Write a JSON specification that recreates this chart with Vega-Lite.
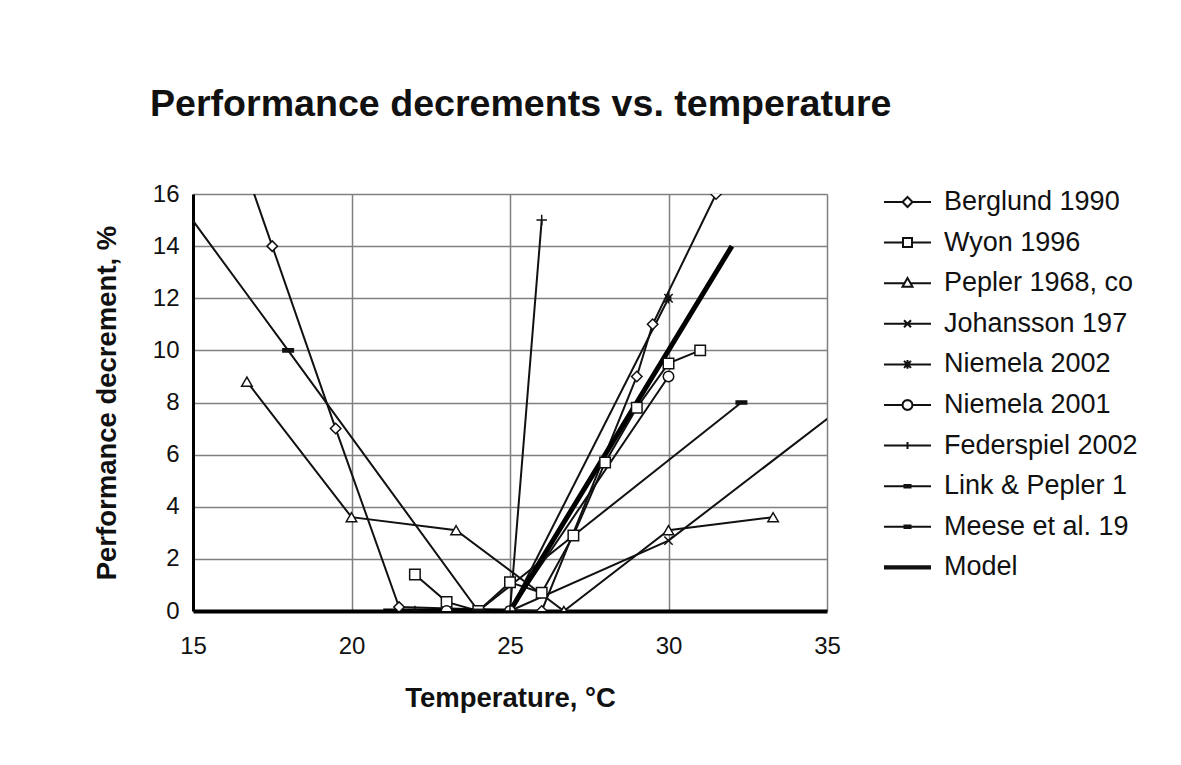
{
  "$schema": "https://vega.github.io/schema/vega-lite/v6.json",
  "autosize": {"type": "none"},
  "padding": {"left": 193, "top": 194, "right": 354, "bottom": 154},
  "width": 634,
  "height": 417,
  "background": "white",
  "config": {
    "font": "Liberation Sans",
    "view": {"stroke": null},
    "axis": {"labelFont": "Liberation Sans", "titleFont": "Liberation Sans", "labelColor": "#111", "titleColor": "#111"}
  },
  "title": {
    "text": "Performance decrements vs. temperature",
    "anchor": "start",
    "frame": "group",
    "dx": -43,
    "offset": 58,
    "fontSize": 37.6,
    "fontWeight": "bold",
    "font": "Liberation Sans",
    "color": "#111"
  },
  "data": {
    "values": [
      {"series": "Berglund 1990", "t": 16.5, "d": 17.5},
      {"series": "Berglund 1990", "t": 17.5, "d": 14},
      {"series": "Berglund 1990", "t": 19.5, "d": 7},
      {"series": "Berglund 1990", "t": 21.5, "d": 0.15},
      {"series": "Berglund 1990", "t": 26, "d": 0},
      {"series": "Berglund 1990", "t": 29, "d": 9},
      {"series": "Berglund 1990", "t": 29.5, "d": 11},
      {"series": "Berglund 1990", "t": 31.5, "d": 16},
      {"series": "Wyon 1996", "t": 22, "d": 1.4},
      {"series": "Wyon 1996", "t": 23, "d": 0.35},
      {"series": "Wyon 1996", "t": 24, "d": 0},
      {"series": "Wyon 1996", "t": 25, "d": 1.1},
      {"series": "Wyon 1996", "t": 26, "d": 0.7},
      {"series": "Wyon 1996", "t": 27, "d": 2.9},
      {"series": "Wyon 1996", "t": 28, "d": 5.7},
      {"series": "Wyon 1996", "t": 29, "d": 7.8},
      {"series": "Wyon 1996", "t": 30, "d": 9.5},
      {"series": "Wyon 1996", "t": 31, "d": 10},
      {"series": "Pepler 1968, co", "t": 16.7, "d": 8.8},
      {"series": "Pepler 1968, co", "t": 20, "d": 3.6},
      {"series": "Pepler 1968, co", "t": 23.3, "d": 3.1},
      {"series": "Pepler 1968, co", "t": 26.7, "d": 0},
      {"series": "Pepler 1968, co", "t": 30, "d": 3.1},
      {"series": "Pepler 1968, co", "t": 33.3, "d": 3.6},
      {"series": "Johansson 197", "t": 25, "d": 0},
      {"series": "Johansson 197", "t": 30, "d": 2.7},
      {"series": "Johansson 197", "t": 36, "d": 8.3},
      {"series": "Niemela 2002", "t": 25, "d": 0},
      {"series": "Niemela 2002", "t": 30, "d": 12},
      {"series": "Niemela 2001", "t": 23, "d": 0},
      {"series": "Niemela 2001", "t": 25, "d": 0},
      {"series": "Niemela 2001", "t": 30, "d": 9},
      {"series": "Federspiel 2002", "t": 22, "d": 0},
      {"series": "Federspiel 2002", "t": 25, "d": 0},
      {"series": "Federspiel 2002", "t": 26, "d": 15},
      {"series": "Link & Pepler 1", "t": 14.5, "d": 15.8},
      {"series": "Link & Pepler 1", "t": 18, "d": 10},
      {"series": "Link & Pepler 1", "t": 24, "d": 0},
      {"series": "Meese et al. 19", "t": 24, "d": 0},
      {"series": "Meese et al. 19", "t": 32.3, "d": 8},
      {"series": "Model", "t": 21, "d": 0},
      {"series": "Model", "t": 25, "d": 0},
      {"series": "Model", "t": 32, "d": 14}
    ]
  },
  "encoding": {
    "x": {
      "field": "t", "type": "quantitative",
      "scale": {"domain": [15, 35], "nice": false, "zero": false},
      "axis": {
        "title": "Temperature, °C", "values": [15, 20, 25, 30, 35],
        "ticks": false, "labelFlush": false, "labelOverlap": false,
        "labelFontSize": 24, "labelPadding": 23,
        "titleFontSize": 27.5, "titleFontWeight": "bold", "titlePadding": 26,
        "domainColor": "#000", "domainWidth": 4,
        "gridColor": "#808080", "gridWidth": 1.5
      }
    },
    "y": {
      "field": "d", "type": "quantitative",
      "scale": {"domain": [0, 16], "nice": false, "zero": false},
      "axis": {
        "title": "Performance decrement, %", "values": [0, 2, 4, 6, 8, 10, 12, 14, 16],
        "ticks": false, "labelFlush": false, "labelOverlap": false,
        "labelFontSize": 24, "labelPadding": 14,
        "titleFontSize": 27.5, "titleFontWeight": "bold", "titlePadding": 31,
        "domainColor": "#000", "domainWidth": 3,
        "gridColor": "#808080", "gridWidth": 1.5
      }
    }
  },
  "layer": [
    {
      "transform": [{"filter": "datum.series !== 'Model'"}],
      "mark": {"type": "line", "clip": true, "color": "#111", "strokeWidth": 2},
      "encoding": {"detail": {"field": "series"}}
    },
    {
      "transform": [{"filter": "datum.series === 'Model'"}],
      "mark": {"type": "line", "clip": true, "color": "#000", "strokeWidth": 5},
      "encoding": {"detail": {"field": "series"}}
    },
    {
      "transform": [{"filter": "datum.series !== 'Model'"}],
      "mark": {"type": "point", "clip": true, "filled": false, "size": 110, "stroke": "#111", "strokeWidth": 1.5, "opacity": 1},
      "encoding": {
        "shape": {
          "field": "series", "type": "nominal",
          "scale": {"domain": ["Berglund 1990", "Wyon 1996", "Pepler 1968, co", "Johansson 197", "Niemela 2002", "Niemela 2001", "Federspiel 2002", "Link & Pepler 1", "Meese et al. 19"],
                    "range": ["diamond", "square", "triangle-up", "M-0.8,-0.8L0.8,0.8M-0.8,0.8L0.8,-0.8", "M-0.8,-0.8L0.8,0.8M-0.8,0.8L0.8,-0.8M0,-1V1M-0.4,-0.4H0.4V0.4H-0.4Z", "circle", "M-1,0H1M0,-1V1", "M-1,-0.3H1V0.3H-1Z", "M-1,-0.3H1V0.3H-1Z"]},
          "legend": null
        },
        "fill": {
          "field": "series", "type": "nominal",
          "scale": {"domain": ["Berglund 1990", "Wyon 1996", "Pepler 1968, co", "Johansson 197", "Niemela 2002", "Niemela 2001", "Federspiel 2002", "Link & Pepler 1", "Meese et al. 19"],
                    "range": ["white", "white", "white", "white", "#111", "white", "white", "#111", "#111"]},
          "legend": null
        }
      }
    },
    {
      "mark": {"type": "point", "clip": true, "filled": false, "opacity": 0, "stroke": "#111"},
      "encoding": {
        "shape": {
          "field": "series", "type": "nominal",
          "scale": {"domain": ["Berglund 1990", "Wyon 1996", "Pepler 1968, co", "Johansson 197", "Niemela 2002", "Niemela 2001", "Federspiel 2002", "Link & Pepler 1", "Meese et al. 19", "Model"],
                    "range": [
                      "M-1.343,0H-0.286M0.286,0H1.343M-0.286,0L0,-0.286L0.286,0L0,0.286Z",
                      "M-1.343,0H-0.257M0.257,0H1.343M-0.257,-0.257H0.257V0.257H-0.257Z",
                      "M-1.343,0H-0.17M0.17,0H1.343M0,-0.3L0.286,0.2H-0.286Z",
                      "M-1.343,0H1.343M-0.2,-0.2L0.2,0.2M-0.2,0.2L0.2,-0.2",
                      "M-1.343,0H1.343M-0.2,-0.2L0.2,0.2M-0.2,0.2L0.2,-0.2M0,-0.25V0.25M-0.1,-0.1H0.1V0.1H-0.1Z",
                      "M-1.343,0H-0.286M0.286,0H1.343M0.286,0L0.248,0.143L0.143,0.248L0,0.286L-0.143,0.248L-0.248,0.143L-0.286,0L-0.248,-0.143L-0.143,-0.248L0,-0.286L0.143,-0.248L0.248,-0.143Z",
                      "M-1.343,0H1.343M0,-0.2V0.2",
                      "M-1.343,0H1.343M-0.229,-0.07H0.229M-0.229,0.07H0.229",
                      "M-1.343,0H1.343M-0.229,-0.07H0.229M-0.229,0.07H0.229",
                      "M-1.343,-0.06H1.343M-1.343,0H1.343M-1.343,0.06H1.343"
                    ]},
          "legend": {
            "title": null,
            "orient": "none",
            "legendX": 696,
            "legendY": -10.5,
            "padding": 0,
            "symbolSize": 1225,
            "symbolStrokeWidth": 2,
            "symbolStrokeColor": "#111",
            "symbolFillColor": "white",
            "symbolOpacity": 1,
            "labelFontSize": 27,
            "labelFont": "Liberation Sans",
            "labelColor": "#111",
            "labelOffset": 18,
            "labelLimit": 400,
            "rowPadding": 8.6
          }
        }
      }
    }
  ],
  "resolve": {"scale": {"shape": "independent"}, "legend": {"shape": "independent"}}
}
